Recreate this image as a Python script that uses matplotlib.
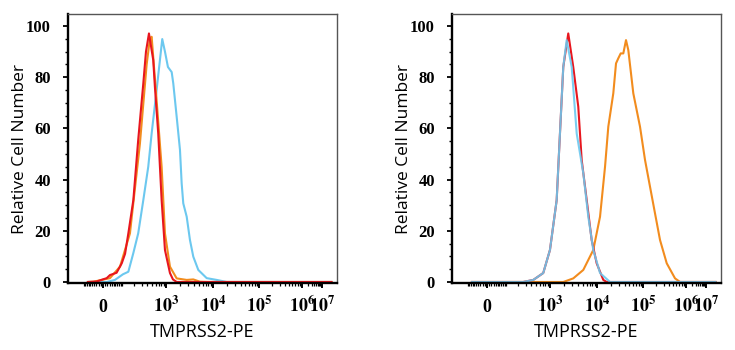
import numpy as np
import matplotlib
matplotlib.use("Agg")
import matplotlib.pyplot as plt
from matplotlib.ticker import FixedLocator, FixedFormatter

# ---------------- data ----------------
# left panel
red_l_x = [-74, -29, 17, 32, 66, 97, 120, 146, 193, 250, 325, 372, 432, 535, 582, 685, 810, 954, 1219, 1412, 1693, 3e7]
red_l_y = [0, 0.2, 1.5, 2.7, 3.6, 7.3, 11, 19, 32, 55.5, 77.6, 90, 97.1, 86.7, 76, 58, 32, 12.5, 3.5, 1.0, 0, 0]
orange_l_x = [-74, -45, 32, 86, 160, 273, 385, 454, 494, 632, 810, 954, 1219, 1693, 2766, 3817, 5300, 7452, 3e7]
orange_l_y = [0, 0.1, 1.5, 6, 19, 54, 85, 95.2, 95.8, 71, 45, 19, 6, 1.4, 0.8, 1.0, 0.1, 0, 0]
blue_l_x = [-74, 17, 57, 105, 146, 193, 250, 325, 417, 494, 632, 835, 954, 1104, 1327, 1434, 1693, 1991,
            2163, 2340, 2766, 3244, 3817, 4877, 7350, 12050, 19900, 3e7]
blue_l_y = [0, 0, 0.8, 3, 4, 11.3, 19, 32, 45, 58, 75, 94.9, 90, 84, 82, 77.6, 64.6, 51.6,
            38.5, 30.7, 25.5, 16.4, 9.9, 4.7, 1.5, 0.8, 0, 0]

# right panel
red_r_x = [-74, 263, 439, 720, 1002, 1393, 1636, 1924, 2456, 3134, 4005, 4733, 6048, 7710, 9850, 13730, 16270, 3e7]
red_r_y = [0, 0, 0.8, 3.5, 12.5, 32, 58, 84, 97.1, 84, 68.5, 47.7, 32, 16.4, 7.3, 0.8, 0, 0]
blue_r_x = [-74, 263, 439, 720, 1002, 1393, 1636, 1924, 2271, 2904, 3710, 5120, 6540, 8340, 11640, 19190, 3e7]
blue_r_y = [0, 0, 0.8, 3.5, 12.5, 32, 58, 84, 94.5, 84, 58, 42.5, 25.5, 12.5, 3.5, 0, 0]
orange_r_x = [-74, 1924, 3134, 5120, 8340, 11640, 14950, 17620, 22620, 25920, 29080, 32780, 37330, 42730,
              47960, 61580, 86100, 111400, 145700, 190300, 248700, 356100, 555400, 726000, 3e7]
orange_r_y = [0, 0, 1.4, 4.7, 12.5, 25.5, 45, 60.7, 73.7, 85.4, 87.4, 89.3, 89.3, 94.5,
              90.6, 73.7, 60.7, 47.7, 37.2, 26.8, 16.4, 7.3, 1.4, 0, 0]

x_major = [0, 1e3, 1e4, 1e5, 1e6, 1e7]
x_major_labels = ["0", r"$\mathbf{10^{3}}$", r"$\mathbf{10^{4}}$", r"$\mathbf{10^{5}}$",
                  r"$\mathbf{10^{6}}$", r"$\mathbf{10^{7}}$"]
y_major = [0, 20, 40, 60, 80, 100]
xlabel = "TMPRSS2-PE"
ylabel = "Relative Cell Number"

# ---------------- scale (biexponential-like display) ----------------
W = 92.0
_kx = np.array([0, 1e3, 1e4, 1e5, 1e6, 1e7])
_ks = np.arcsinh(_kx / W)
_ku = np.array([0.130, 0.364, 0.539, 0.710, 0.870, 0.944])
_s_lo, _s_hi = -20.0, 25.0
_u_lo = _ku[0] - (_ku[1] - _ku[0]) / (_ks[1] - _ks[0]) * (_ks[0] - _s_lo)
_u_hi = _ku[-1] + (_ku[-1] - _ku[-2]) / (_ks[-1] - _ks[-2]) * (_s_hi - _ks[-1])
S = np.concatenate([[_s_lo], _ks, [_s_hi]])
U = np.concatenate([[_u_lo], _ku, [_u_hi]])


def fwd(x):
    return np.interp(np.arcsinh(np.asarray(x, dtype=float) / W), S, U)


def inv(u):
    return W * np.sinh(np.interp(np.asarray(u, dtype=float), U, S))


minor = []
for n in range(2, 7):
    for k in range(2, 10):
        minor.append(k * 10 ** n)
for v in [10, 20, 30, 40, 50, 60, 70, 80, 90, 100]:
    minor += [v, -v]

RED = "#e8161e"
ORANGE = "#f28c1e"
BLUE = "#6cc8ef"

plt.rcParams["font.family"] = ["Open Sans", "DejaVu Sans"]
plt.rcParams["mathtext.fontset"] = "stix"

fig = plt.figure(figsize=(7.35, 3.5), dpi=100)
W_ax = 269 / 735
H_ax = 269 / 350
ax1 = fig.add_axes([68 / 735, 67 / 350, W_ax, H_ax])
ax2 = fig.add_axes([452 / 735, 67 / 350, W_ax, H_ax])


def style(ax):
    ax.set_xscale("function", functions=(fwd, inv))
    ax.set_xlim(inv(0.0), inv(1.0))
    ax.set_ylim(-0.4, 104.7)
    ax.xaxis.set_major_locator(FixedLocator(x_major))
    ax.xaxis.set_major_formatter(FixedFormatter(x_major_labels))
    ax.xaxis.set_minor_locator(FixedLocator(minor))
    ax.set_yticks(y_major)
    ax.set_yticks(np.arange(0, 105, 5), minor=True)
    ax.tick_params(axis="y", which="major", direction="out", length=3.8, width=1.3, pad=8.5, colors="black")
    ax.tick_params(axis="y", which="minor", direction="out", length=2.3, width=1.0)
    ax.tick_params(axis="x", which="major", direction="out", length=3.8, width=1.4, pad=17)
    ax.tick_params(axis="x", which="minor", direction="out", length=2.3, width=0.9)
    for lab in ax.get_yticklabels():
        lab.set_fontfamily("Liberation Serif")
        lab.set_fontweight("bold")
        lab.set_fontsize(12)
    for lab in ax.get_xticklabels():
        lab.set_fontfamily("Liberation Serif")
        lab.set_fontweight("bold")
        lab.set_fontsize(13)
        lab.set_verticalalignment("baseline")
    ax.spines["left"].set_linewidth(1.7)
    ax.spines["bottom"].set_linewidth(1.7)
    ax.spines["top"].set_linewidth(1.0)
    ax.spines["right"].set_linewidth(1.0)
    ax.spines["top"].set_color("#555555")
    ax.spines["right"].set_color("#555555")
    ax.set_xlabel(xlabel, fontsize=13)
    ax.set_ylabel(ylabel, fontsize=12.5)
    ax.xaxis.set_label_coords(0.5, -0.15)
    ax.yaxis.set_label_coords(-0.148, 0.5)


lw = 1.5
ax1.plot(blue_l_x, blue_l_y, color=BLUE, lw=lw)
ax1.plot(orange_l_x, orange_l_y, color=ORANGE, lw=lw)
ax1.plot(red_l_x, red_l_y, color=RED, lw=lw)

ax2.plot(orange_r_x, orange_r_y, color=ORANGE, lw=lw)
ax2.plot(red_r_x, red_r_y, color=RED, lw=lw)
ax2.plot(blue_r_x, blue_r_y, color=BLUE, lw=lw, alpha=0.9)

style(ax1)
style(ax2)

fig.savefig("out.png", dpi=100, facecolor="white")
